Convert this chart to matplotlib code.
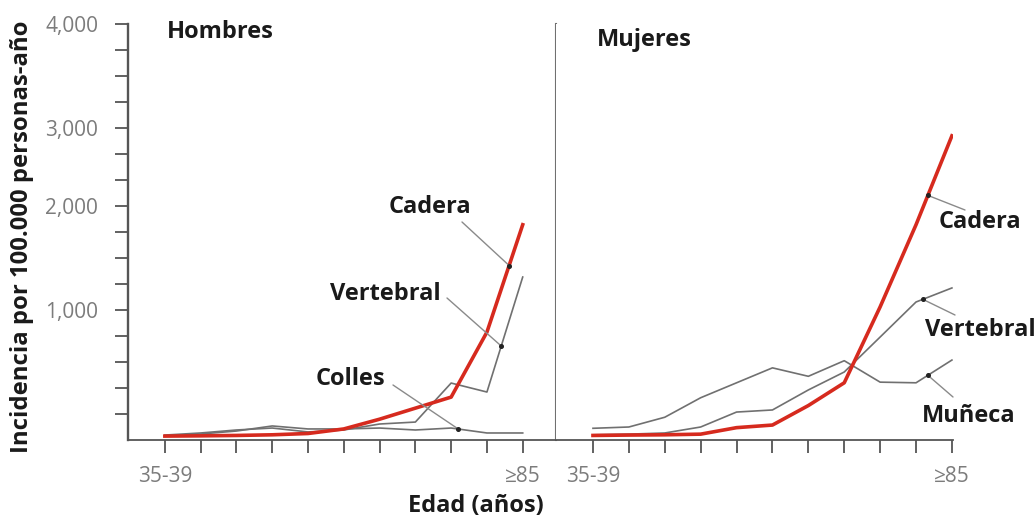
import numpy as np
import matplotlib
matplotlib.use("Agg")
import matplotlib.pyplot as plt

# age groups on the x axis (only first and last are labelled)
ages = ["35-39", "40-44", "45-49", "50-54", "55-59", "60-64",
        "65-69", "70-74", "75-79", "80-84", "≥85"]

# incidence per 100,000 person-years
hombres_cadera = [30, 32, 35, 40, 50, 85, 160, 245, 330, 830, 1820]
hombres_vertebral = [38, 54, 77, 92, 62, 77, 123, 138, 438, 369, 1317]
hombres_colles = [31, 46, 69, 108, 85, 85, 92, 77, 92, 54, 54]

mujeres_cadera = [35, 38, 40, 45, 95, 115, 265, 440, 1030, 1820, 2900]
mujeres_vertebral = [40, 45, 54, 100, 215, 231, 385, 523, 792, 1077, 1212]
mujeres_muneca = [90, 100, 175, 325, 440, 555, 490, 610, 445, 440, 615]

# the value axis is drawn with uneven spacing between its labels
y_label_values = [0, 1000, 2000, 3000, 4000]
y_label_slots = [0, 5, 9, 12, 16]
y_tick_text = {5: "1,000", 9: "2,000", 12: "3,000", 16: "4,000"}

RED = "#d62a1e"
GREY = "#707070"
AXIS = "#555555"
TICKTXT = "#7c7c7c"
INK = "#1a1a1a"
FONT = ["Open Sans", "DejaVu Sans"]

plt.rcParams["font.family"] = FONT


def fwd(v):
    v = np.asarray(v, dtype=float)
    out = np.interp(v, y_label_values, y_label_slots)
    out = np.where(v < 0, v * 5 / 1000, out)
    out = np.where(v > 4000, 16 + (v - 4000) * 4 / 1000, out)
    return out


def inv(t):
    t = np.asarray(t, dtype=float)
    out = np.interp(t, y_label_slots, y_label_values)
    out = np.where(t < 0, t * 1000 / 5, out)
    out = np.where(t > 16, 4000 + (t - 16) * 1000 / 4, out)
    return out


def on_line(series, x):
    """value of the drawn polyline at a fractional age index"""
    t = np.interp(x, np.arange(len(series)), fwd(series))
    return float(inv(t))


W, H = 1036, 517
fig = plt.figure(figsize=(W / 100, H / 100), dpi=100)
ax_h = fig.add_axes([128 / W, 77 / H, 428 / W, 416 / H])
ax_m = fig.add_axes([556 / W, 77 / H, 397 / W, 416 / H], sharey=ax_h)

ax_h.set_yscale("function", functions=(fwd, inv))
ax_h.set_ylim(0, 4000)
ax_h.set_xlim(-1.03, 10.93)
ax_m.set_xlim(-1.03, 10.03)

x = np.arange(len(ages))
xlabels = [a if k in (0, len(ages) - 1) else "" for k, a in enumerate(ages)]

for ax in (ax_h, ax_m):
    ax.spines["top"].set_visible(False)
    ax.spines["bottom"].set_color(AXIS)
    ax.spines["bottom"].set_linewidth(1.3)
    ax.set_xticks(x)
    ax.set_xticklabels(xlabels)
    ax.tick_params(axis="x", direction="out", length=9.5, width=1.3,
                   color=AXIS, pad=9, labelsize=15, labelcolor=TICKTXT)

ax_h.spines["left"].set_color(AXIS)
ax_h.spines["left"].set_linewidth(1.7)
ax_h.spines["right"].set_color(GREY)
ax_h.spines["right"].set_linewidth(1.5)
ax_m.spines["left"].set_visible(False)
ax_m.spines["right"].set_visible(False)

slots = np.arange(1, 17)
ax_h.set_yticks(inv(slots))
ax_h.set_yticklabels([y_tick_text.get(s, "") for s in slots])
ax_h.yaxis.set_minor_locator(matplotlib.ticker.NullLocator())
ax_h.tick_params(axis="y", direction="out", length=9.5, width=1.3,
                 color=AXIS, pad=12, labelsize=15, labelcolor=TICKTXT)
ax_m.tick_params(axis="y", left=False, labelleft=False, which="both")

# Hombres
ax_h.plot(x, hombres_colles, color=GREY, lw=1.2)
ax_h.plot(x, hombres_vertebral, color=GREY, lw=1.2)
ax_h.plot(x, hombres_cadera, color=RED, lw=2.6)

# Mujeres
ax_m.plot(x, mujeres_muneca, color=GREY, lw=1.2)
ax_m.plot(x, mujeres_vertebral, color=GREY, lw=1.2)
ax_m.plot(x, mujeres_cadera, color=RED, lw=2.6)

# curve labels: (axes, series, index of the dot, leader start, text pos, text)
callouts = [
    (ax_h, hombres_cadera, 9.62, (462, 222), (430, 207), "Cadera"),
    (ax_h, hombres_vertebral, 9.4, (447, 298), (385, 294), "Vertebral"),
    (ax_h, hombres_colles, 8.2, (393, 385), (350, 379), "Colles"),
    (ax_m, mujeres_cadera, 9.33, (965, 210), (980, 222), "Cadera"),
    (ax_m, mujeres_vertebral, 9.19, (955, 315), (980, 330), "Vertebral"),
    (ax_m, mujeres_muneca, 9.33, (953, 397), (969, 416), "Muñeca"),
]
for ax, series, xi, start, pos, label in callouts:
    yi = on_line(series, xi)
    ax.annotate("", xy=(xi, yi), xytext=(start[0], H - start[1]),
                textcoords="figure pixels",
                arrowprops=dict(arrowstyle="-", color="#8a8a8a", lw=1.0,
                                shrinkA=0, shrinkB=0))
    ax.plot(xi, yi, "o", ms=2.6, color="#222222", zorder=5)
    fig.text(pos[0] / W, 1 - pos[1] / H, label, ha="center", va="center",
             fontsize=17, fontweight="bold", color=INK)

fig.text(167 / W, 1 - 38 / H, "Hombres", ha="left", va="baseline",
         fontsize=17, fontweight="bold", color=INK)
fig.text(597 / W, 1 - 46 / H, "Mujeres", ha="left", va="baseline",
         fontsize=17, fontweight="bold", color=INK)

fig.text(22 / W, 1 - 237 / H, "Incidencia por 100.000 personas-año",
         rotation=90, ha="center", va="center", fontsize=17.2,
         fontweight="bold", color=INK)
fig.text(476 / W, 1 - 512 / H, "Edad (años)", ha="center", va="baseline",
         fontsize=17, fontweight="bold", color=INK)

fig.savefig("out.png", dpi=100)
